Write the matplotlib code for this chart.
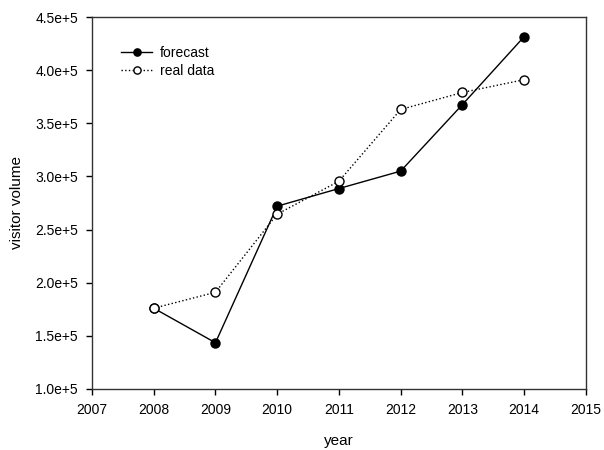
import matplotlib
matplotlib.use("Agg")
import matplotlib.pyplot as plt
from matplotlib.ticker import FuncFormatter

plt.rcParams['font.family'] = ['Liberation Sans', 'DejaVu Sans']

years = [2008, 2009, 2010, 2011, 2012, 2013, 2014]
forecast = [1.76e5, 1.435e5, 2.72e5, 2.886e5, 3.05e5, 3.676e5, 4.315e5]
real_data = [1.76e5, 1.91e5, 2.645e5, 2.955e5, 3.63e5, 3.79e5, 3.91e5]

fig = plt.figure(figsize=(6.04, 4.5), dpi=100)
ax = fig.add_axes([0.1523, 0.1356, 0.8177, 0.8266])

ax.plot(years, forecast, '-', color='black', lw=1, marker='o', ms=6.5,
        mfc='black', mec='black', label='forecast', zorder=3)
ax.plot(years, real_data, ':', color='black', lw=1, marker='o', ms=6.5,
        mfc='white', mec='black', label='real data', zorder=4)

ax.set_xlim(2007, 2015)
ax.set_ylim(1.0e5, 4.5e5)
ax.set_xticks(range(2007, 2016))
ax.set_yticks([1.0e5, 1.5e5, 2.0e5, 2.5e5, 3.0e5, 3.5e5, 4.0e5, 4.5e5])
ax.yaxis.set_major_formatter(FuncFormatter(lambda v, p: f"{v/1e5:.1f}e+5"))
ax.tick_params(labelsize=10, direction='out', length=4, width=1, pad=6)
for s in ax.spines.values():
    s.set_linewidth(1)
    s.set_color('#333333')

ax.set_xlabel("year", fontsize=11, labelpad=12)
ax.set_ylabel("visitor volume", fontsize=11, labelpad=8)

ax.legend(loc='upper left', bbox_to_anchor=(0.034, 0.956), frameon=False,
          fontsize=10, handlelength=2.2, handletextpad=0.6, labelspacing=0.3,
          markerscale=0.8)

fig.savefig("out.png", dpi=100)
